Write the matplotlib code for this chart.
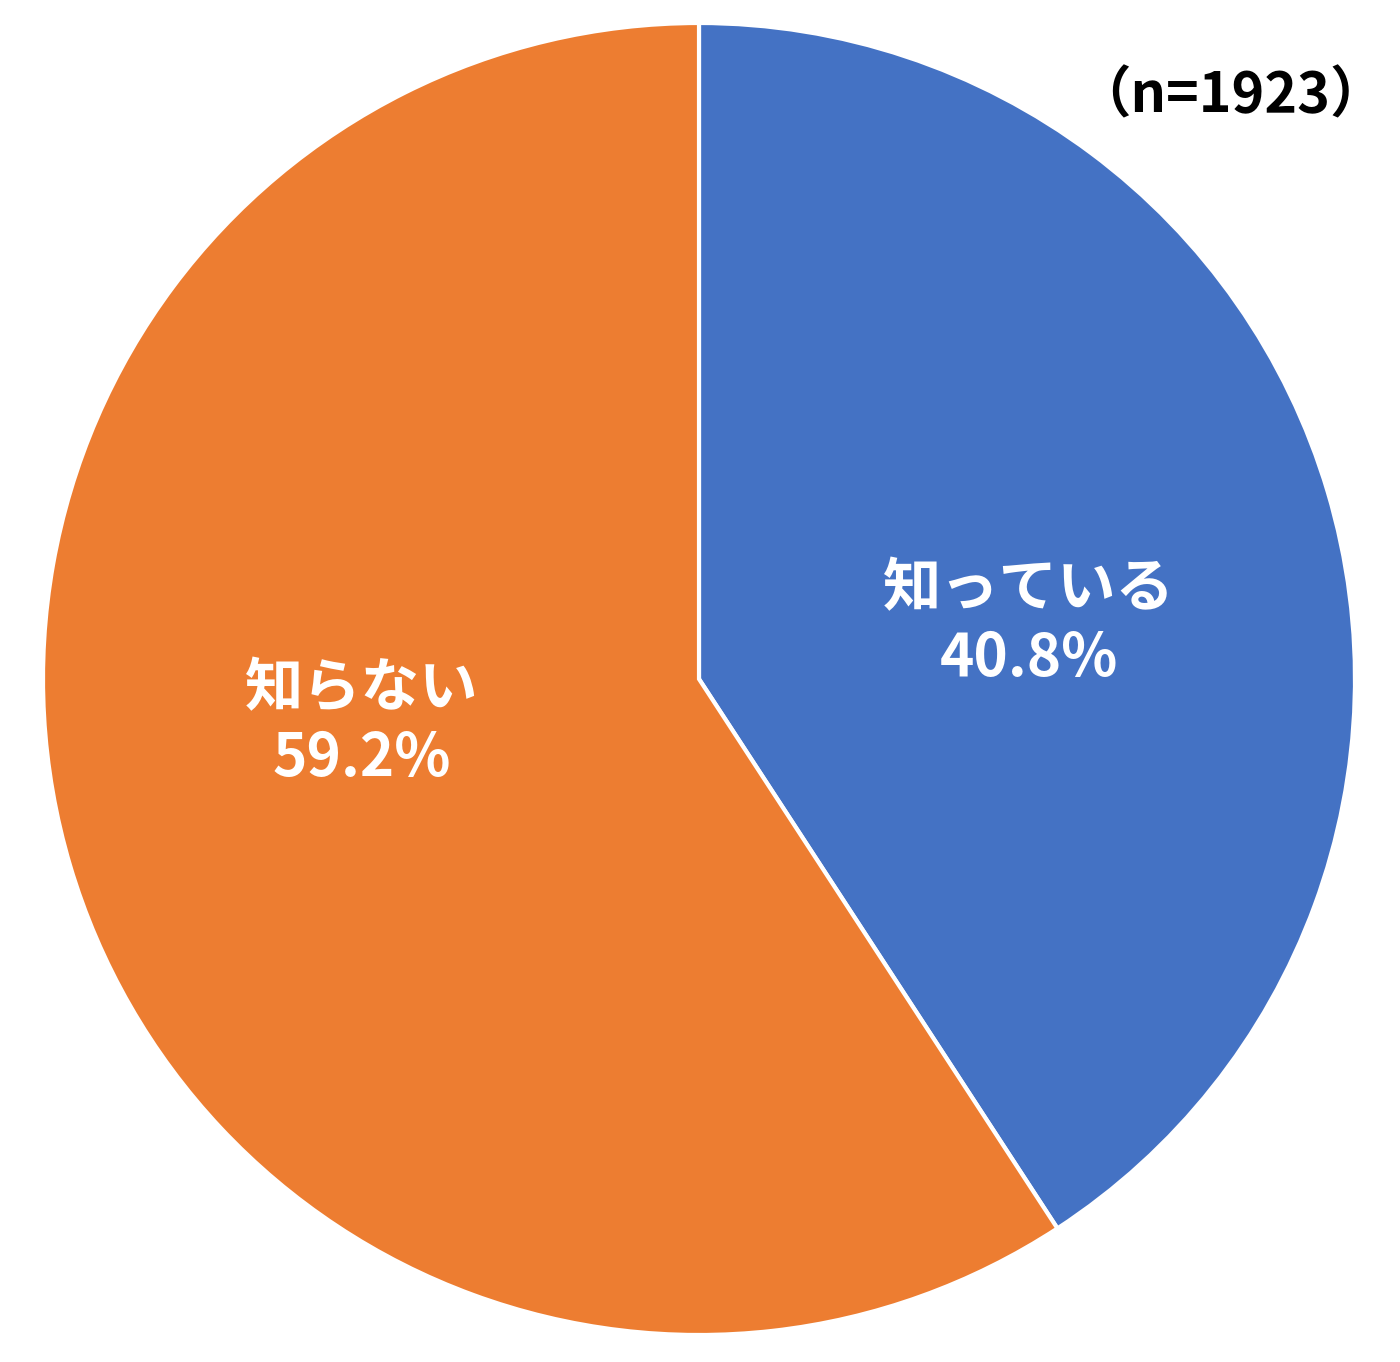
import matplotlib.pyplot as plt

plt.rcParams['font.family'] = ['Noto Sans CJK JP', 'DejaVu Sans']

# data
labels = ['知っている', '知らない']
shares = [40.8, 59.2]
colors = ['#4472C4', '#ED7D31']
sample_note = '（n=1923）'

W, H = 1400, 1362
fig = plt.figure(figsize=(W / 100, H / 100), dpi=100)

# pie centre and radius in pixels (from top-left)
cx, cy, r = 699, 679, 656
ax = fig.add_axes([(cx - r) / W, (H - cy - r) / H, 2 * r / W, 2 * r / H])

wedges, _ = ax.pie(shares, colors=colors, startangle=90, counterclock=False,
                   radius=1, wedgeprops=dict(edgecolor='white', linewidth=3))
ax.set_xlim(-1, 1)
ax.set_ylim(-1, 1)
ax.set_aspect('equal')
ax.axis('off')

# label positions (pixel centres), converted to pie coordinates
label_pos = [(1029, 624), (362, 724)]
for (px, py), lab, val in zip(label_pos, labels, shares):
    ax.text((px - cx) / r, (cy - py) / r, f'{lab}\n{val}%',
            ha='center', va='center', color='white', fontsize=42,
            fontweight='bold', linespacing=1.22)

fig.text(1230 / W, 1 - 96 / H, sample_note, ha='center', va='center',
         fontsize=40, fontweight='bold', color='black')

fig.savefig('out.png', dpi=100, facecolor='white')
